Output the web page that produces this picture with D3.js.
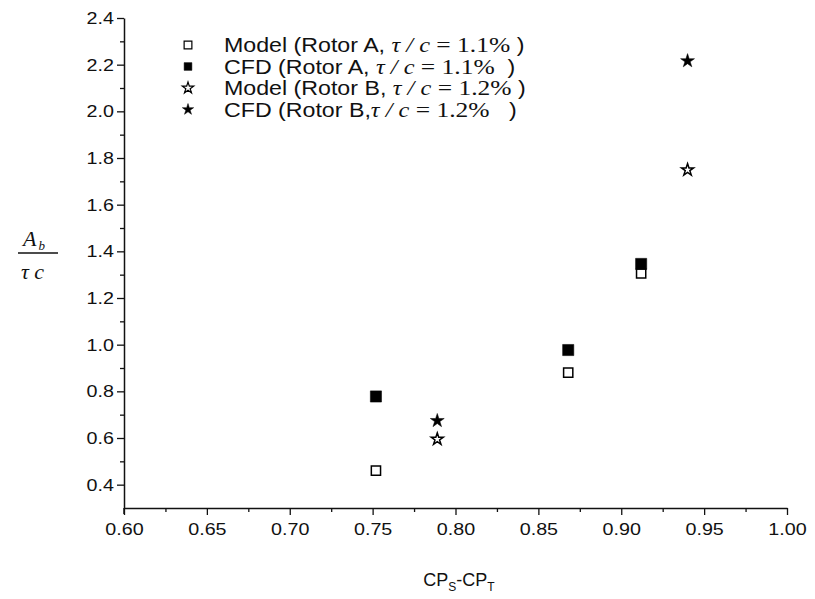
<!DOCTYPE html>
<html>
<head>
<meta charset="utf-8">
<script src="https://cdn.jsdelivr.net/npm/d3@7"></script>
<style>
  body { margin: 0; background: #fff; }
  text { fill: #111; }
</style>
</head>
<body>
<svg id="chart" width="815" height="599"></svg>
<script>
// series: [CPs-CPt, Ab/(tau c)]
const modelA = [[0.752, 0.46], [0.868, 0.88], [0.912, 1.305]];
const cfdA   = [[0.752, 0.778], [0.868, 0.977], [0.912, 1.346]];
const modelB = [[0.789, 0.595], [0.940, 1.749]];
const cfdB   = [[0.789, 0.674], [0.940, 2.216]];

const xTicks = [0.60, 0.65, 0.70, 0.75, 0.80, 0.85, 0.90, 0.95, 1.00];
const yTicks = [0.4, 0.6, 0.8, 1.0, 1.2, 1.4, 1.6, 1.8, 2.0, 2.2, 2.4];

const legendRows = [
  {sym: "square", fill: false, label: "Model (Rotor A, ", ratio: "1.1%", tail: " )"},
  {sym: "square", fill: true,  label: "CFD (Rotor A, ",   ratio: "1.1%", tail: "  )"},
  {sym: "star",   fill: false, label: "Model (Rotor B, ", ratio: "1.2%", tail: " )"},
  {sym: "star",   fill: true,  label: "CFD (Rotor B,",    ratio: "1.2%", tail: "   )"}
];

const svg = d3.select("#chart");
const plotL = 124, plotR = 787, plotT = 18, plotB = 508;
const stretch = 1.16; // text in the original is a bit wide

const x = d3.scaleLinear().domain([0.6, 1.0]).range([plotL, plotR]);
const y = d3.scaleLinear().domain([0.3, 2.4]).range([plotB, plotT]);

// x axis, major + minor ticks
const xAxis = svg.append("g").attr("transform", `translate(0,${plotB})`)
    .call(d3.axisBottom(x).tickValues(xTicks).tickFormat(d3.format(".2f"))
      .tickSize(7).tickSizeOuter(0));
svg.append("g").attr("transform", `translate(0,${plotB})`)
    .call(d3.axisBottom(x).tickValues(d3.range(0.625, 1.0, 0.05)).tickFormat("")
      .tickSize(4).tickSizeOuter(0))
    .select(".domain").remove();

const yAxis = svg.append("g").attr("transform", `translate(${plotL},0)`)
    .call(d3.axisLeft(y).tickValues(yTicks).tickFormat(d3.format(".1f"))
      .tickSize(7).tickSizeOuter(0));
svg.append("g").attr("transform", `translate(${plotL},0)`)
    .call(d3.axisLeft(y).tickValues(d3.range(0.5, 2.4, 0.2)).tickFormat("")
      .tickSize(4).tickSizeOuter(0))
    .select(".domain").remove();

// y axis runs a little past the x axis like the original
svg.append("line").attr("x1", plotL).attr("x2", plotL)
    .attr("y1", plotB).attr("y2", plotB + 6)
    .attr("stroke", "#111").attr("stroke-width", 1.5);

svg.selectAll(".domain").attr("stroke", "#111").attr("stroke-width", 1.5);
svg.selectAll(".tick line").attr("stroke", "#111").attr("stroke-width", 1.3);
svg.selectAll(".tick text")
    .attr("font-family", "Liberation Sans, Arial, sans-serif")
    .attr("font-size", 17).style("fill", "#111")
    .attr("transform", `scale(${stretch},1)`);
xAxis.selectAll(".tick text").attr("dy", "1.0em");
yAxis.selectAll(".tick text").attr("x", -10 / stretch);

// markers
function drawSeries(data, type, filled, size) {
  svg.append("g").selectAll("path").data(data).join("path")
      .attr("transform", d => `translate(${x(d[0])},${y(d[1])})`)
      .attr("d", d3.symbol().type(type).size(size))
      .attr("fill", filled ? "#000" : "#fff")
      .attr("stroke", "#000")
      .attr("stroke-width", filled ? 0.5 : 1.5);
}
drawSeries(modelA, d3.symbolSquare, false, 85);
drawSeries(cfdA, d3.symbolSquare, true, 125);
drawSeries(modelB, d3.symbolStar, false, 45);
drawSeries(cfdB, d3.symbolStar, true, 60);

// legend
const leg = svg.append("g");
legendRows.forEach((r, i) => {
  const ly = 45 + i * 21.5;
  leg.append("path")
      .attr("transform", `translate(188,${ly})`)
      .attr("d", d3.symbol().type(r.sym === "square" ? d3.symbolSquare : d3.symbolStar)
        .size(r.sym === "square" ? 60 : 40))
      .attr("fill", r.fill ? "#000" : "#fff")
      .attr("stroke", "#000")
      .attr("stroke-width", r.fill ? 0.5 : 1.2);
  const t = leg.append("text")
      .attr("transform", `translate(224,${ly + 7}) scale(${stretch},1)`)
      .attr("font-family", "Liberation Sans, Arial, sans-serif").attr("font-size", 20)
      .style("white-space", "pre");
  t.append("tspan").text(r.label);
  t.append("tspan").attr("font-family", "Liberation Serif, Times New Roman, serif")
      .attr("font-style", "italic").attr("font-size", 21).text("τ / c");
  t.append("tspan").attr("font-family", "Liberation Serif, Times New Roman, serif")
      .attr("font-size", 22).text(" = " + r.ratio);
  t.append("tspan").text(r.tail);
});

// y label: Ab / (tau c)
const yl = svg.append("g").attr("font-family", "Liberation Serif, Times New Roman, serif")
    .attr("font-style", "italic").attr("font-size", 22);
const ab = yl.append("text").attr("x", 23).attr("y", 246);
ab.append("tspan").text("A");
ab.append("tspan").attr("font-size", 13).attr("dy", 4).attr("dx", 2).text("b");
yl.append("line").attr("x1", 18).attr("x2", 58).attr("y1", 253).attr("y2", 253)
    .attr("stroke", "#111").attr("stroke-width", 1.3);
yl.append("text").attr("x", 21).attr("y", 279).text("τ c");

// x label
const xl = svg.append("text")
    .attr("transform", "translate(459,586)").attr("text-anchor", "middle")
    .attr("font-family", "Liberation Sans, Arial, sans-serif").attr("font-size", 18);
xl.append("tspan").text("CP");
xl.append("tspan").attr("font-size", 12).attr("dy", 5).text("S");
xl.append("tspan").attr("dy", -5).text("-CP");
xl.append("tspan").attr("font-size", 12).attr("dy", 5).text("T");
</script>
</body>
</html>
